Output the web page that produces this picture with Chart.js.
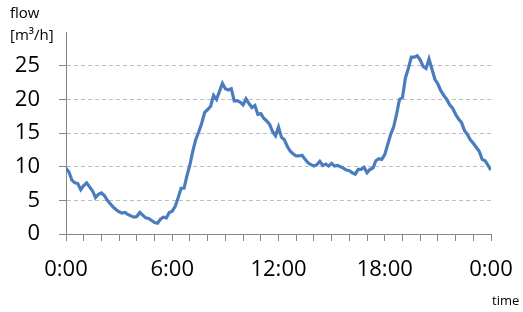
<!DOCTYPE html>
<html>
<head>
<meta charset="utf-8">
<script src="https://cdn.jsdelivr.net/npm/chart.js@4"></script>
<style>
  body { margin: 0; background: #fff; }
</style>
</head>
<body>
<canvas id="flowChart" width="523" height="312"></canvas>
<script>
// sampling step of the series, in hours (10 minutes)
const stepHours = 1 / 6;

// flow in m3/h, one row per hour of the day, last value is 24:00
const flow = [
    9.8, 9.2, 8.0, 7.6, 7.5, 6.6,
    7.2, 7.6, 7.0, 6.4, 5.4, 5.9,
    6.1, 5.7, 5.0, 4.5, 4.0, 3.6,
    3.3, 3.1, 3.2, 2.9, 2.7, 2.5,
    2.6, 3.2, 2.8, 2.4, 2.3, 2.0,
    1.7, 1.6, 2.2, 2.5, 2.4, 3.2,
    3.4, 4.1, 5.4, 6.8, 6.8, 8.7,
    10.3, 12.4, 14.1, 15.2, 16.5, 18.1,
    18.5, 19.0, 20.6, 20.0, 21.2, 22.4,
    21.6, 21.4, 21.6, 19.8, 19.8, 19.6,
    19.2, 20.1, 19.4, 18.8, 19.1, 17.8,
    17.9, 17.2, 16.8, 16.3, 15.2, 14.6,
    15.9, 14.4, 14.0, 13.0, 12.3, 11.9,
    11.6, 11.6, 11.7, 11.1, 10.6, 10.3,
    10.1, 10.3, 10.8, 10.2, 10.4, 10.1,
    10.5, 10.1, 10.2, 10.0, 9.8, 9.5,
    9.4, 9.1, 8.9, 9.6, 9.6, 9.9,
    9.1, 9.6, 9.8, 10.9, 11.2, 11.1,
    11.8, 13.3, 14.8, 15.9, 17.8, 20.0,
    20.3, 23.2, 24.6, 26.3, 26.3, 26.5,
    25.9, 24.9, 24.6, 26.0, 24.5, 23.0,
    22.3, 21.3, 20.6, 20.0, 19.2, 18.7,
    17.8, 17.1, 16.6, 15.4, 14.8, 14.0,
    13.5, 12.9, 12.3, 11.1, 10.9, 10.2,
    9.5
];

const timeLabels = ['0:00', '6:00', '12:00', '18:00', '0:00'];
const flowTicks = [0, 5, 10, 15, 20, 25];

const axisGrey = '#868686';
const font = 'Open Sans';

// axis captions drawn as canvas text
const captions = {
    id: 'captions',
    afterDraw(chart) {
        const c = chart.ctx;
        c.save();
        c.fillStyle = '#000';
        c.textBaseline = 'alphabetic';
        c.font = '15px "' + font + '"';
        c.textAlign = 'left';
        c.fillText('flow', 10, 18);
        c.fillText('[m³/h]', 10, 40);
        c.font = '13px "' + font + '"';
        c.fillText('time', 492, 305);
        c.restore();
    }
};

const ctx = document.getElementById('flowChart').getContext('2d');
const flowChart = new Chart(ctx, {
    type: 'line',
    data: {
        datasets: [{
            data: flow.map((v, i) => ({ x: i * stepHours, y: v })),
            borderColor: '#4a7dbd',
            borderWidth: 3.2,
            pointRadius: 0,
            tension: 0,
            fill: false
        }]
    },
    options: {
        responsive: false,
        animation: false,
        layout: { padding: { top: 29, right: 32, left: 0, bottom: 0 } },
        plugins: { legend: { display: false }, tooltip: { enabled: false } },
        scales: {
            x: {
                type: 'linear',
                min: 0,
                max: 24,
                afterFit: s => {
                    s.height = 78;
                    s.paddingLeft = 0;
                    s.paddingRight = 0;
                },
                ticks: {
                    stepSize: 1,
                    autoSkip: false,
                    maxRotation: 0,
                    padding: 16,
                    color: '#000',
                    font: { family: font, size: 22 },
                    callback: v => (v % 6 === 0 ? timeLabels[v / 6] : '')
                },
                grid: { drawOnChartArea: false, tickLength: 7, tickColor: axisGrey },
                border: { color: axisGrey, width: 1 }
            },
            y: {
                min: 0,
                max: 30,
                afterFit: s => { s.width = 66; },
                ticks: {
                    stepSize: 5,
                    padding: 19,
                    color: '#000',
                    font: { family: font, size: 22 },
                    callback: v => (flowTicks.includes(v) ? String(v) : '')
                },
                grid: {
                    color: c => (c.tick && c.tick.value > 0 && c.tick.value < 30 ? '#bdbdbd' : 'rgba(0,0,0,0)'),
                    tickColor: c => (c.tick && c.tick.value < 30 ? axisGrey : 'rgba(0,0,0,0)'),
                    tickLength: 7
                },
                border: { color: axisGrey, width: 1, dash: [4, 3] }
            }
        }
    },
    plugins: [captions]
});
</script>
</body>
</html>
